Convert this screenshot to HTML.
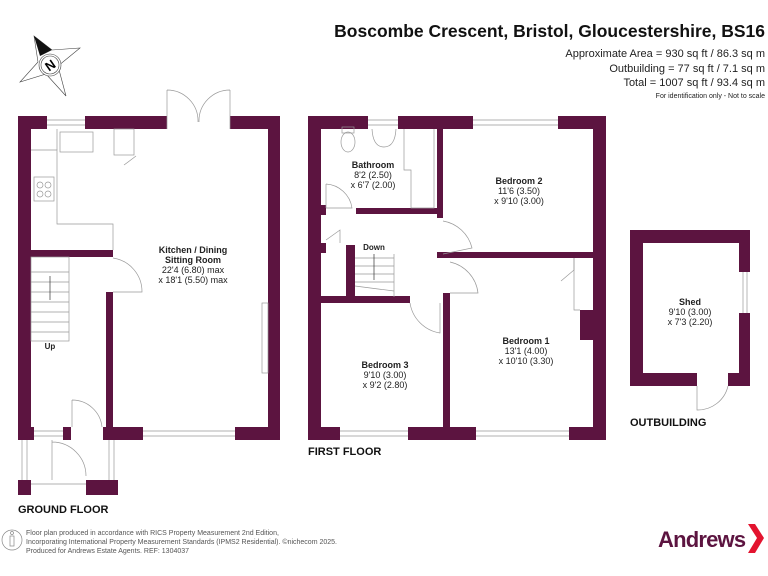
<!DOCTYPE html>
<html><head><style>
html,body{margin:0;padding:0;background:#fff;}
svg{display:block;font-family:"Liberation Sans",Arial,sans-serif;}
</style></head><body>
<svg width="768" height="576" viewBox="0 0 768 576" xmlns="http://www.w3.org/2000/svg">
<rect width="768" height="576" fill="#fff"/>
<text x="765" y="37" text-anchor="end" font-size="17.5" font-weight="bold" fill="#111">Boscombe Crescent, Bristol, Gloucestershire, BS16</text>
<g font-size="11" fill="#222" text-anchor="end">
<text x="765" y="57">Approximate Area = 930 sq ft / 86.3 sq m</text>
<text x="765" y="72">Outbuilding = 77 sq ft / 7.1 sq m</text>
<text x="765" y="86">Total = 1007 sq ft / 93.4 sq m</text>
<text x="765" y="98" font-size="7">For identification only - Not to scale</text>
</g>
<g stroke="#444" stroke-width="0.6" fill="none">
<polygon points="34,36 52,50 80,48 58,66 66,96 46,74 20,82 38,62"/>
<circle cx="50" cy="65" r="11" fill="#fff"/>
<circle cx="50" cy="65" r="9"/>
</g>
<polygon points="34,36 52,50 40,56" fill="#111"/>
<text x="50" y="70" font-size="13" font-weight="bold" text-anchor="middle" transform="rotate(-35 50 65)">N</text>

<g fill="#5c1440">
<rect x="18" y="116" width="29" height="13"/>
<rect x="85" y="116" width="82" height="13"/>
<rect x="230" y="116" width="50" height="13"/>
<rect x="18" y="116" width="13" height="324"/>
<rect x="268" y="116" width="12" height="324"/>
<rect x="18" y="427" width="16" height="13"/>
<rect x="63" y="427" width="8" height="13"/>
<rect x="103" y="427" width="40" height="13"/>
<rect x="235" y="427" width="45" height="13"/>
<rect x="31" y="250" width="82" height="7"/>
<rect x="106" y="292" width="7" height="148"/>
<rect x="18" y="480" width="13" height="15"/>
<rect x="86" y="480" width="32" height="15"/>
<rect x="308" y="116" width="60" height="13"/>
<rect x="398" y="116" width="75" height="13"/>
<rect x="558" y="116" width="48" height="13"/>
<rect x="308" y="116" width="13" height="324"/>
<rect x="593" y="116" width="13" height="324"/>
<rect x="308" y="427" width="32" height="13"/>
<rect x="408" y="427" width="68" height="13"/>
<rect x="569" y="427" width="37" height="13"/>
<rect x="356" y="208" width="87" height="6"/>
<rect x="437" y="129" width="6" height="89"/>
<rect x="437" y="252" width="156" height="6"/>
<rect x="321" y="296" width="89" height="7"/>
<rect x="346" y="245" width="9" height="55"/>
<rect x="443" y="293" width="7" height="134"/>
<rect x="321" y="205" width="5" height="10"/>
<rect x="321" y="243" width="5" height="10"/>
<rect x="580" y="310" width="13" height="30"/>
<rect x="630" y="230" width="120" height="13"/>
<rect x="630" y="230" width="13" height="156"/>
<rect x="739" y="230" width="11" height="42"/>
<rect x="739" y="313" width="11" height="73"/>
<rect x="630" y="373" width="67" height="13"/>
<rect x="728" y="373" width="22" height="13"/>
</g>

<g stroke="#999" stroke-width="0.7" fill="none">
<line x1="47" y1="120" x2="85" y2="120"/><line x1="47" y1="125" x2="85" y2="125"/>
<line x1="143" y1="431" x2="235" y2="431"/><line x1="143" y1="436" x2="235" y2="436"/>
<line x1="34" y1="431" x2="63" y2="431"/><line x1="34" y1="436" x2="63" y2="436"/>
<line x1="22" y1="440" x2="22" y2="480"/><line x1="27" y1="440" x2="27" y2="480"/>
<line x1="109" y1="440" x2="109" y2="480"/><line x1="114" y1="440" x2="114" y2="480"/>
<line x1="31" y1="484" x2="86" y2="484"/>
<line x1="368" y1="120" x2="398" y2="120"/><line x1="368" y1="125" x2="398" y2="125"/>
<line x1="473" y1="120" x2="558" y2="120"/><line x1="473" y1="125" x2="558" y2="125"/>
<line x1="340" y1="431" x2="408" y2="431"/><line x1="340" y1="436" x2="408" y2="436"/>
<line x1="476" y1="431" x2="569" y2="431"/><line x1="476" y1="436" x2="569" y2="436"/>
<line x1="743" y1="272" x2="743" y2="313"/><line x1="747" y1="272" x2="747" y2="313"/>
<polyline points="31,150 57,150 57,224 113,224 113,250"/>
<polyline points="57,129 57,150"/>
<rect x="60" y="132" width="33" height="20"/>
<rect x="114" y="129" width="20" height="26"/>
<rect x="34" y="177" width="20" height="24"/>
<circle cx="40" cy="185" r="3"/><circle cx="48" cy="185" r="3"/><circle cx="40" cy="194" r="3"/><circle cx="48" cy="194" r="3"/>
<rect x="31" y="257" width="38" height="84"/>
<line x1="31" y1="272" x2="69" y2="272"/><line x1="31" y1="282" x2="69" y2="282"/><line x1="31" y1="292" x2="69" y2="292"/><line x1="31" y1="302" x2="69" y2="302"/><line x1="31" y1="312" x2="69" y2="312"/><line x1="31" y1="322" x2="69" y2="322"/><line x1="31" y1="332" x2="69" y2="332"/>
<line x1="50" y1="300" x2="50" y2="276" stroke="#333"/>
<rect x="262" y="303" width="6" height="70"/>
<path d="M113,258 A34,34 0 0 1 142,292 L113,292"/>
<path d="M167,90 L167,129 M167,90 A31,31 0 0 1 198,122 M230,90 L230,129 M230,90 A31,31 0 0 0 199,122"/>
<path d="M72,400 L72,427 M72,400 A30,30 0 0 1 102,427"/>
<path d="M52,440 L52,480 M52,442 A34,34 0 0 1 86,476"/>
<path d="M124,165 L136,156"/>
<ellipse cx="348" cy="142" rx="7" ry="10"/>
<rect x="342" y="127" width="12" height="6"/>
<path d="M372,129 Q373,147 384,147 Q395,147 396,129"/>
<polyline points="404,129 404,170 411,170 411,208 434,208 434,129"/>
<path d="M326,184 A28,28 0 0 1 352,208 L326,208 M326,184 L326,208"/>
<path d="M443,221 A36,36 0 0 1 472,248 L443,254"/>
<path d="M450,262 A36,36 0 0 1 478,293 L450,293"/>
<path d="M410,303 A36,36 0 0 0 440,333 L440,303"/>
<path d="M326,240 L340,230 L340,243"/>
<path d="M574,258 L574,270 L561,281"/>
<polyline points="574,258 574,310 580,310"/>
<line x1="394" y1="254" x2="394" y2="297"/>
<line x1="355" y1="258" x2="394" y2="258"/><line x1="355" y1="266" x2="394" y2="266"/><line x1="355" y1="274" x2="394" y2="274"/><line x1="355" y1="282" x2="394" y2="282"/>
<line x1="355" y1="286" x2="394" y2="291"/>
<line x1="374" y1="254" x2="374" y2="280" stroke="#333"/>
<path d="M697,386 L697,410 A31,31 0 0 0 728,386"/>
</g>

<g font-size="9" fill="#222" text-anchor="middle">
<text x="193" y="253" font-weight="bold">Kitchen / Dining</text>
<text x="193" y="263" font-weight="bold">Sitting Room</text>
<text x="193" y="273">22'4 (6.80) max</text>
<text x="193" y="283">x 18'1 (5.50) max</text>
<text x="50" y="349" font-size="8" font-weight="bold">Up</text>
<text x="373" y="168" font-weight="bold">Bathroom</text>
<text x="373" y="178">8'2 (2.50)</text>
<text x="373" y="188">x 6'7 (2.00)</text>
<text x="519" y="184" font-weight="bold">Bedroom 2</text>
<text x="519" y="194">11'6 (3.50)</text>
<text x="519" y="204">x 9'10 (3.00)</text>
<text x="374" y="250" font-size="8" font-weight="bold">Down</text>
<text x="526" y="344" font-weight="bold">Bedroom 1</text>
<text x="526" y="354">13'1 (4.00)</text>
<text x="526" y="364">x 10'10 (3.30)</text>
<text x="385" y="368" font-weight="bold">Bedroom 3</text>
<text x="385" y="378">9'10 (3.00)</text>
<text x="385" y="388">x 9'2 (2.80)</text>
<text x="690" y="305" font-weight="bold">Shed</text>
<text x="690" y="315">9'10 (3.00)</text>
<text x="690" y="325">x 7'3 (2.20)</text>
</g>
<g font-size="11" font-weight="bold" fill="#111">
<text x="18" y="513">GROUND FLOOR</text>
<text x="308" y="455">FIRST FLOOR</text>
<text x="630" y="426">OUTBUILDING</text>
</g>
<g stroke="#888" stroke-width="0.7" fill="none">
<circle cx="12" cy="540" r="10"/>
<circle cx="12" cy="533" r="1.5"/>
<rect x="10" y="536" width="4" height="10"/>
</g>
<g font-size="7" fill="#555">
<text x="26" y="535">Floor plan produced in accordance with RICS Property Measurement 2nd Edition,</text>
<text x="26" y="544">Incorporating International Property Measurement Standards (IPMS2 Residential).   ©nichecom 2025.</text>
<text x="26" y="553">Produced for Andrews Estate Agents.   REF:  1304037</text>
</g>
<text x="658" y="547" font-size="22" font-weight="bold" fill="#5c1440" letter-spacing="-0.8">Andrews</text>
<polygon points="748,524 755,524 764,538 755,553 748,553 757,538" fill="#e3142f"/>
</svg>
</body></html>
